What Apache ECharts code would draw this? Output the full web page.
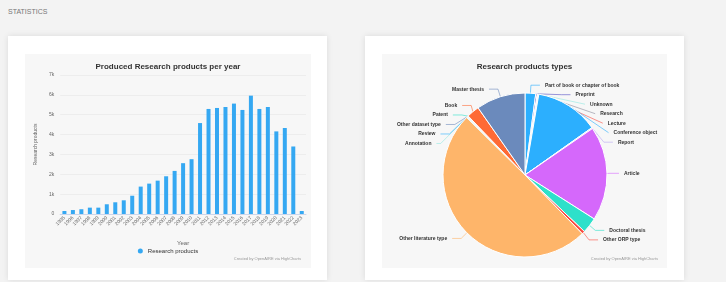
<!DOCTYPE html>
<html><head><meta charset="utf-8">
<script src="https://cdn.jsdelivr.net/npm/echarts@6/dist/echarts.min.js"></script>
<style>
html,body{margin:0;padding:0;width:726px;height:282px;overflow:hidden;background:#f3f3f3;font-family:"Liberation Sans",Arial,sans-serif;}
#hdr{position:absolute;left:8px;top:8px;font-size:7px;color:#777;letter-spacing:0;}
.card{position:absolute;top:36px;height:244px;background:#fff;box-shadow:0 0 6px rgba(0,0,0,0.10);}
#c1{left:8px;width:319px;}
#c2{left:365px;width:319px;}
.chart{position:absolute;top:54px;height:214px;}
#bar{left:25px;width:286px;}
#pie{left:382px;width:285px;}
</style></head>
<body>
<div id="hdr">STATISTICS</div>
<div class="card" id="c1"></div>
<div class="card" id="c2"></div>
<div class="chart" id="bar"></div>
<div class="chart" id="pie"></div>
<script>
// ---- data ----
const years = ['1995','1996','1997','1998','1999','2000','2001','2002','2003','2004','2005','2006','2007','2008','2009','2010','2011','2012','2013','2014','2015','2016','2017','2018','2019','2020','2021','2022','2023'];
const productsPerYear = [150,200,240,320,320,490,590,690,920,1380,1530,1680,1900,2170,2560,2760,4580,5290,5340,5390,5560,5240,5960,5290,5390,4160,4330,3400,150];
const yTickLabels = ['0','1k','2k','3k','4k','5k','6k','7k'];

const typeNames = ['Part of book or chapter of book','Preprint','Unknown','Research','Lecture','Conference object','Report','Article','Doctoral thesis','Other ORP type','Other literature type','Annotation','Review','Other dataset type','Patent','Book','Master thesis'];
const typeValues = [21,3,1,1,1,125,2,186,31,6,497,1,1,1,1,25,97];
const typeColors = ['#2caffe','#544fc5','#91e8e1','#8a8a9a','#fa4b42','#2caffe','#b9a8f5','#d568fb','#2ee0ca','#fa4b42','#feb56a','#91e8e1','#2caffe','#6b8abc','#2ee0ca','#fe6a35','#6b8abc'];

const FONT = '"Liberation Sans", Arial, sans-serif';
const credit = 'Created by OpenAIRE via HighCharts';

// ---- bar chart ----
const bar = echarts.init(document.getElementById('bar'), null, {renderer:'canvas'});
bar.setOption({
  backgroundColor:'#f7f7f7',
  animation:false,
  textStyle:{fontFamily:FONT},
  title:[
    {text:'Produced Research products per year',left:'center',top:4,textStyle:{fontSize:8,fontWeight:'bold',color:'#333',fontFamily:FONT}},
    {text:credit,right:5,bottom:2,textStyle:{fontSize:4,fontWeight:'normal',color:'#999',fontFamily:FONT}}
  ],
  legend:{bottom:9,left:'center',itemWidth:5,itemHeight:5,icon:'circle',itemGap:4,
    textStyle:{fontSize:6,color:'#333',fontFamily:FONT},data:['Research products']},
  grid:{left:29,right:5,top:21,bottom:54,containLabel:false},
  xAxis:{type:'category',data:years,name:'Year',nameLocation:'middle',nameGap:26,
    nameTextStyle:{fontSize:6,color:'#666'},
    axisLine:{lineStyle:{color:'#ccd6eb'}},axisTick:{show:false},
    axisLabel:{interval:0,rotate:45,fontSize:5,color:'#666',margin:3}},
  yAxis:{type:'value',min:0,max:7000,interval:1000,name:'Research products',nameLocation:'middle',nameGap:19,
    nameTextStyle:{fontSize:5,color:'#666'},
    axisLabel:{fontSize:5,color:'#666',margin:6,formatter:(v)=>yTickLabels[v/1000]},
    splitLine:{lineStyle:{color:'#e6e6e6',width:0.6}},axisLine:{show:false},axisTick:{show:false}},
  series:[{name:'Research products',type:'bar',data:productsPerYear,barWidth:4,
    itemStyle:{color:'#35a8f2'}}]
});

// ---- pie chart ----
const pie = echarts.init(document.getElementById('pie'), null, {renderer:'canvas'});
pie.setOption({
  backgroundColor:'#f7f7f7',
  animation:false,
  textStyle:{fontFamily:FONT},
  title:[
    {text:'Research products types',left:'center',top:4,textStyle:{fontSize:8,fontWeight:'bold',color:'#333',fontFamily:FONT}},
    {text:credit,right:4,bottom:2,textStyle:{fontSize:4,fontWeight:'normal',color:'#999',fontFamily:FONT}}
  ],
  series:[{type:'pie',center:[143,121],radius:82,startAngle:90,clockwise:true,
    minShowLabelAngle:0,avoidLabelOverlap:true,
    itemStyle:{borderColor:'#fff',borderWidth:1},
    label:{show:true,position:'outside',formatter:'{b}',fontSize:5,lineHeight:7.5,overflow:'none',fontWeight:'bold',color:'#333',fontFamily:FONT},
    labelLine:{show:true,length:8,length2:9,lineStyle:{width:0.6}},
    data:typeNames.map((n,i)=>({name:n,value:typeValues[i],itemStyle:{color:typeColors[i]}}))
  }]
});
</script>
</body></html>
